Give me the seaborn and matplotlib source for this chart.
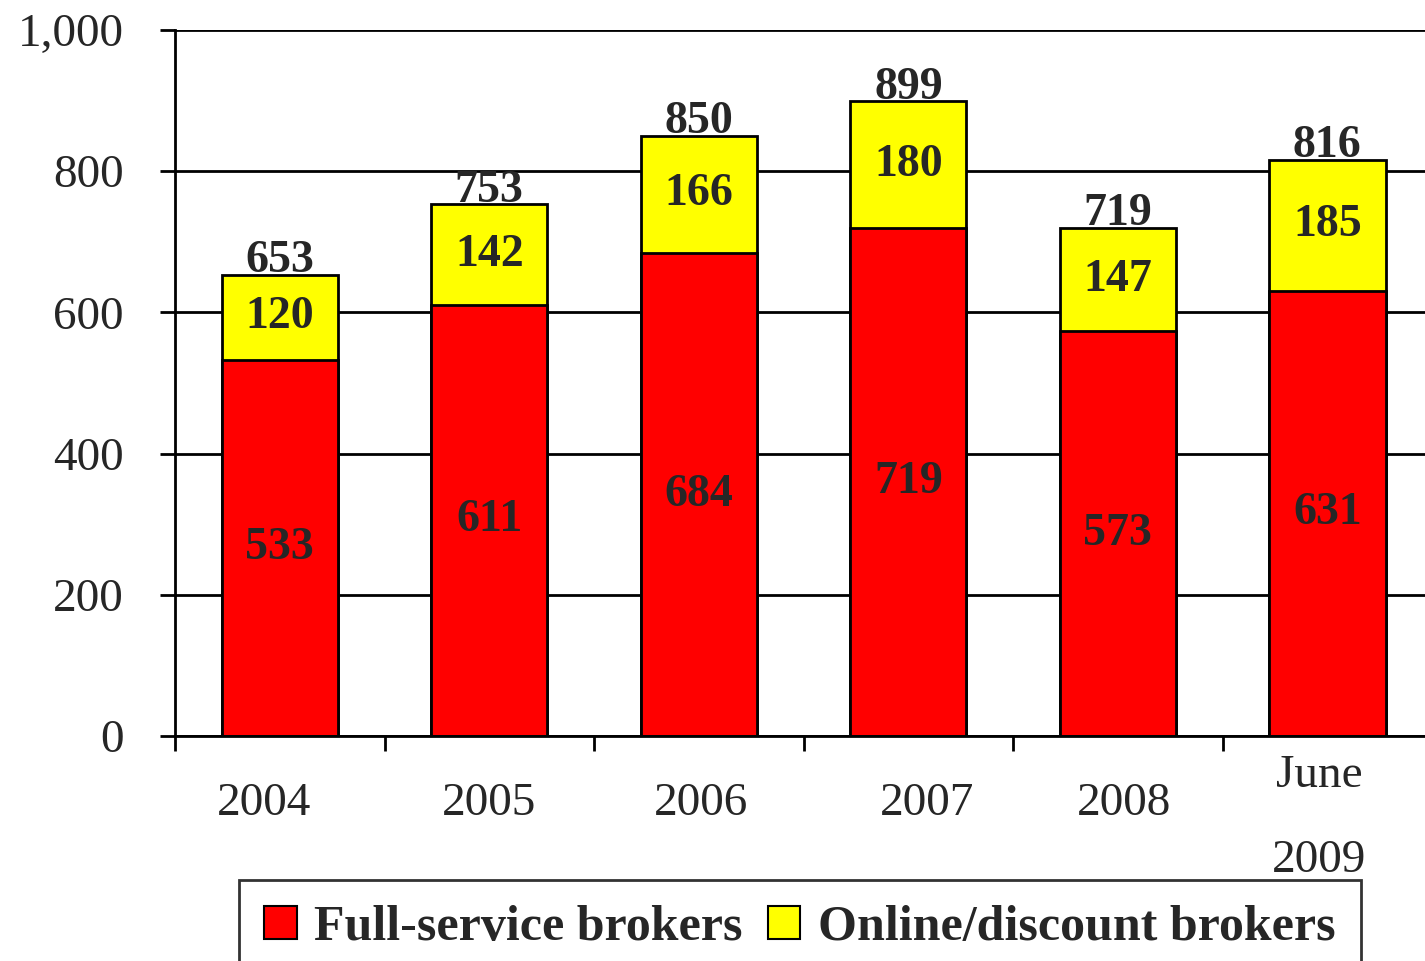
import matplotlib
matplotlib.use("Agg")
import matplotlib.pyplot as plt
import matplotlib.transforms as mtransforms
import seaborn as sns
import pandas as pd
import numpy as np
from matplotlib.patches import Patch
from matplotlib.ticker import FuncFormatter

years = ["2004", "2005", "2006", "2007", "2008", "June\n2009"]
full_service = [533, 611, 684, 719, 573, 631]
online_discount = [120, 142, 166, 180, 147, 185]
totals = [653, 753, 850, 899, 719, 816]

RED = "#FF0000"
YELLOW = "#FFFF00"

sns.set_style("white")
plt.rcParams["font.family"] = ["Liberation Serif", "DejaVu Serif"]

df = pd.DataFrame({"year": years, "full": full_service, "online": online_discount})
df["stack"] = df["full"] + df["online"]

fig = plt.figure(figsize=(14.25, 9.61), dpi=100)
ax = fig.add_axes([0.1228, 0.2341, 0.8822, 0.7347])

bw = 0.555
sns.barplot(data=df, x="year", y="stack", color=YELLOW, width=bw, edgecolor="black",
            linewidth=2, saturation=1, ax=ax, zorder=3)
sns.barplot(data=df, x="year", y="full", color=RED, width=bw, edgecolor="black",
            linewidth=2, saturation=1, ax=ax, zorder=4)

ax.set_ylim(0, 1000)
ax.set_xlim(-0.5, 5.5)
ax.set_yticks(np.arange(0, 1001, 200))
ax.yaxis.set_major_formatter(FuncFormatter(lambda v, p: f"{int(v):,}"))
ax.grid(axis="y", color="black", linewidth=2, zorder=0)
ax.set_axisbelow(True)
ax.set_xlabel("")
ax.set_ylabel("")

for s in ["top", "right"]:
    ax.spines[s].set_visible(False)
for s in ["left", "bottom"]:
    ax.spines[s].set_color("black")
    ax.spines[s].set_linewidth(2)
    ax.spines[s].set_zorder(5)

ax.tick_params(axis="y", which="major", direction="out", length=11, width=2,
               color="black", labelsize=34, pad=26, left=True)
ax.set_xticks(np.arange(-0.5, 6.0, 1.0), minor=True)
ax.tick_params(axis="x", which="minor", direction="out", length=11, width=2,
               color="black", bottom=True)
ax.tick_params(axis="x", which="major", length=0, labelsize=34, pad=49)

# Excel-like irregular label placement (pixel offsets at 100 dpi)
label_shift = [(-16, 0), (0, 0), (2, 0), (19, 0), (6, 0), (-8, -14)]
for lab, (dx, dy) in zip(ax.get_xticklabels(), label_shift):
    lab.set_va("center")
    lab.set_linespacing(2.3)
    lab.set_transform(lab.get_transform() +
                      mtransforms.ScaledTranslation(dx / 100, dy / 100, fig.dpi_scale_trans))

for i in range(len(years)):
    f = full_service[i]
    o = online_discount[i]
    ax.text(i, f / 2, f"{f}", ha="center", va="center", fontsize=33,
            fontweight="bold", zorder=6)
    ax.text(i, f + o / 2, f"{o}", ha="center", va="center", fontsize=33,
            fontweight="bold", zorder=6)
    ax.annotate(f"{totals[i]}", xy=(i, f + o), xytext=(0, 2), textcoords="offset points",
                ha="center", va="baseline", fontsize=33, fontweight="bold", zorder=6)

handles = [Patch(facecolor=RED, edgecolor="black", linewidth=1.5, label="Full-service brokers"),
           Patch(facecolor=YELLOW, edgecolor="black", linewidth=1.5, label="Online/discount brokers")]
leg = fig.legend(handles=handles, loc="upper left", bbox_to_anchor=(0.168, 0.084),
                 ncol=2, frameon=True, fancybox=False, prop={"size": 36, "weight": "bold"},
                 handlelength=0.65, handleheight=0.65, handletextpad=0.35, columnspacing=0.5,
                 borderpad=0.5, borderaxespad=0)
leg.get_frame().set_edgecolor("black")
leg.get_frame().set_linewidth(2)

fig.savefig("out.png", dpi=100)
